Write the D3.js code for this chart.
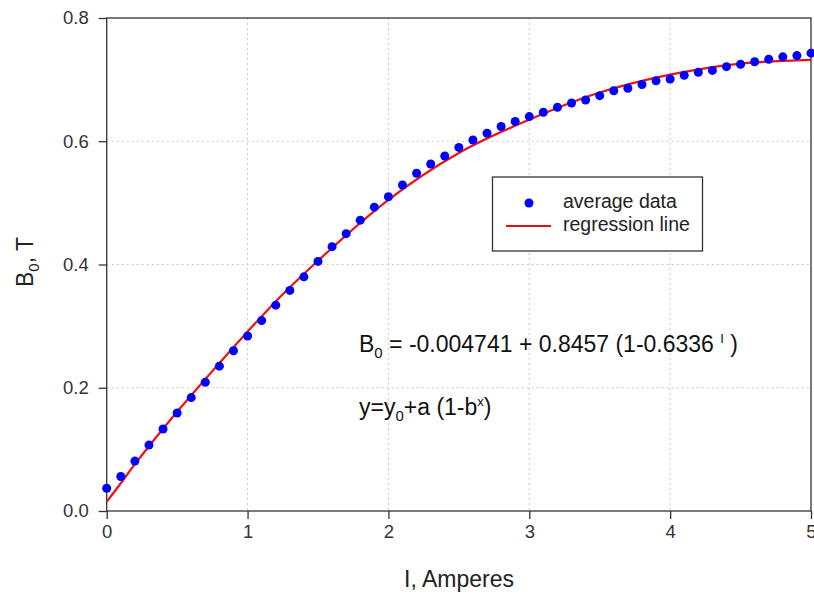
<html>
<head>
<script src="https://cdn.jsdelivr.net/npm/d3@7"></script>
<style>
  body { margin: 0; padding: 0; background: #fff; }
  text { font-family: "Liberation Sans", Arial, sans-serif; }
</style>
</head>
<body>
<div id="chart"></div>
<script>
// average data, one point each 0.1 A
var current = [];
for (var k = 0; k <= 50; k++) current.push(k / 10);
var field = [0.037, 0.056, 0.081, 0.107, 0.133, 0.159, 0.184, 0.209, 0.235, 0.260,
             0.284, 0.309, 0.334, 0.358, 0.380, 0.405, 0.429, 0.450, 0.472, 0.493,
             0.510, 0.529, 0.548, 0.563, 0.576, 0.590, 0.602, 0.613, 0.624, 0.632,
             0.640, 0.647, 0.655, 0.662, 0.667, 0.674, 0.682, 0.686, 0.692, 0.698,
             0.701, 0.707, 0.712, 0.715, 0.721, 0.725, 0.729, 0.733, 0.737, 0.739,
             0.743];

// regression line
var fitX = [0, 0.1, 0.2, 0.3, 0.5, 0.7, 1.0, 1.2, 1.5, 2.0, 2.5, 3.0, 3.5, 4.0, 4.5, 5.0];
var fitY = [0.015, 0.045, 0.076, 0.105, 0.161, 0.214, 0.291, 0.340, 0.406, 0.505,
            0.581, 0.635, 0.679, 0.708, 0.726, 0.732];

var xTicks = [0, 1, 2, 3, 4, 5];
var yTicks = [0.0, 0.2, 0.4, 0.6, 0.8];

var W = 814, H = 595;
var svg = d3.select('#chart').append('svg')
    .attr('width', W).attr('height', H);

var x = d3.scaleLinear().domain([0, 5]).range([106.7, 811]);
var y = d3.scaleLinear().domain([0, 0.8]).range([511, 18]);

// grid
svg.append('g').selectAll('line').data(xTicks.slice(1, -1))
  .enter().append('line')
    .attr('x1', function(d) { return x(d); }).attr('x2', function(d) { return x(d); })
    .attr('y1', y(0.8)).attr('y2', y(0))
    .attr('stroke', '#c8c8c8').attr('stroke-dasharray', '2,3');
svg.append('g').selectAll('line').data(yTicks.slice(1, -1))
  .enter().append('line')
    .attr('y1', function(d) { return y(d); }).attr('y2', function(d) { return y(d); })
    .attr('x1', x(0)).attr('x2', x(5))
    .attr('stroke', '#c8c8c8').attr('stroke-dasharray', '2,3');

// axes
var xAxis = svg.append('g').attr('transform', 'translate(0,' + y(0) + ')')
    .call(d3.axisBottom(x).tickValues(xTicks).tickFormat(d3.format('d')).tickSize(8).tickPadding(6));
var yAxis = svg.append('g').attr('transform', 'translate(' + x(0) + ',0)')
    .call(d3.axisLeft(y).tickValues(yTicks).tickFormat(d3.format('.1f')).tickSize(8).tickPadding(10));
[xAxis, yAxis].forEach(function(a) {
  a.select('.domain').remove();
  a.selectAll('line').attr('stroke', '#333').attr('stroke-width', 1.3);
  a.selectAll('text').attr('fill', '#333').style('font-size', '18.5px')
    .style('font-family', '"Liberation Sans", Arial, sans-serif');
});

// frame
svg.append('rect')
  .attr('x', x(0)).attr('y', y(0.8))
  .attr('width', x(5) - x(0)).attr('height', y(0) - y(0.8))
  .attr('fill', 'none').attr('stroke', '#333').attr('stroke-width', 1.3);

// regression line
var line = d3.line()
  .x(function(d, i) { return x(fitX[i]); })
  .y(function(d) { return y(d); })
  .curve(d3.curveMonotoneX);
svg.append('path').datum(fitY)
  .attr('d', line)
  .attr('fill', 'none').attr('stroke', '#ee1111').attr('stroke-width', 2.2);

// data points
svg.append('g').selectAll('circle').data(field)
  .enter().append('circle')
    .attr('cx', function(d, i) { return x(current[i]); })
    .attr('cy', function(d) { return y(d); })
    .attr('r', 4.5)
    .attr('fill', '#0000ff');

// legend
var lg = svg.append('g');
lg.append('rect').attr('x', 492.5).attr('y', 177).attr('width', 210).attr('height', 74)
  .attr('fill', '#fff').attr('stroke', '#333').attr('stroke-width', 1.3);
lg.append('circle').attr('cx', 529).attr('cy', 203).attr('r', 4.5).attr('fill', '#0000ff');
lg.append('line').attr('x1', 506).attr('x2', 551).attr('y1', 226).attr('y2', 226)
  .attr('stroke', '#dd1111').attr('stroke-width', 2.2);
lg.append('text').attr('x', 563).attr('y', 208).style('font-size', '19.5px').attr('fill', '#222')
  .text('average data');
lg.append('text').attr('x', 563).attr('y', 231).style('font-size', '19.5px').attr('fill', '#222')
  .text('regression line');

// equations
var eq1 = svg.append('text').attr('x', 359).attr('y', 352).style('font-size', '23px').attr('fill', '#111');
eq1.append('tspan').text('B');
eq1.append('tspan').attr('dy', 6).style('font-size', '15px').text('0');
eq1.append('tspan').attr('dy', -6).text(' = -0.004741 + 0.8457 (1-0.6336 ');
eq1.append('tspan').attr('dy', -9).style('font-size', '13px').text('I');
eq1.append('tspan').attr('dy', 9).text(' )');

var eq2 = svg.append('text').attr('x', 359).attr('y', 415).style('font-size', '23px').attr('fill', '#111');
eq2.append('tspan').text('y=y');
eq2.append('tspan').attr('dy', 6).style('font-size', '15px').text('0');
eq2.append('tspan').attr('dy', -6).text('+a (1-b');
eq2.append('tspan').attr('dy', -9).style('font-size', '13px').text('x');
eq2.append('tspan').attr('dy', 9).text(')');

// axis titles
svg.append('text').attr('x', 459).attr('y', 587).attr('text-anchor', 'middle')
  .style('font-size', '23px').attr('fill', '#222').text('I, Amperes');
var yt = svg.append('text').attr('transform', 'translate(33,262) rotate(-90)')
  .attr('text-anchor', 'middle').style('font-size', '23px').attr('fill', '#222');
yt.append('tspan').text('B');
yt.append('tspan').attr('dy', 6).style('font-size', '15px').text('0');
yt.append('tspan').attr('dy', -6).text(', T');
</script>
</body>
</html>
